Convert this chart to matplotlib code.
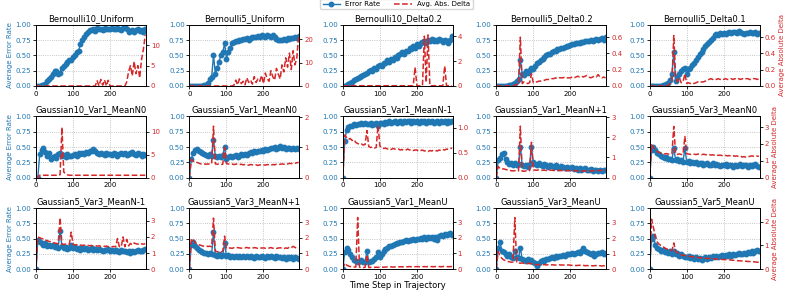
import numpy as np
import matplotlib.pyplot as plt

# time steps (sampled every 5 steps)
steps = np.arange(0, 300, 5)

titles = ["Bernoulli10_Uniform", "Bernoulli5_Uniform", "Bernoulli10_Delta0.2",
          "Bernoulli5_Delta0.2", "Bernoulli5_Delta0.1",
          "Gaussian10_Var1_MeanN0", "Gaussian5_Var1_MeanN0", "Gaussian5_Var1_MeanN-1",
          "Gaussian5_Var1_MeanN+1", "Gaussian5_Var3_MeanN0",
          "Gaussian5_Var3_MeanN-1", "Gaussian5_Var3_MeanN+1", "Gaussian5_Var1_MeanU",
          "Gaussian5_Var3_MeanU", "Gaussian5_Var5_MeanU"]

# ---- row 1 ----
err_b10_unif = [0, 0, 0, 0.01, 0.02, 0.04, 0.08, 0.12, 0.15, 0.20,
                0.25, 0.24, 0.20, 0.22, 0.30, 0.33, 0.36, 0.40, 0.43, 0.42,
                0.47, 0.50, 0.55, 0.58, 0.68, 0.75, 0.80, 0.85, 0.88, 0.92,
                0.92, 0.93, 0.90, 0.95, 0.93, 0.94, 0.92, 0.95, 0.93, 0.94,
                0.93, 0.95, 0.94, 0.93, 0.95, 0.94, 0.92, 0.95, 0.96, 0.93,
                0.88, 0.90, 0.92, 0.89, 0.91, 0.93, 0.90, 0.92, 0.89, 0.93]
dlt_b10_unif = [0, 0, 0, 0, 0, 0, 0, 0, 0, 0,
                0, 0, 0, 0, 0, 0, 0, 0, 0, 0,
                0, 0, 0, 0, 0, 0, 0, 0, 0, 0,
                0, 0, 0, 1.3, 0, 1.6, 0.2, 1.5, 0, 1.4,
                0, 0, 0, 0, 0, 0, 0, 0, 0, 1.0,
                3.5, 5.0, 2.5, 6.0, 3.0, 5.0, 2.0, 6.5, 9.0, 12.5]

err_b5_unif = [0, 0, 0, 0, 0, 0, 0, 0, 0.01, 0.02,
               0.05, 0.12, 0.15, 0.50, 0.20, 0.30, 0.40, 0.50, 0.55, 0.70,
               0.45, 0.55, 0.62, 0.70, 0.72, 0.73, 0.74, 0.76, 0.75, 0.77,
               0.77, 0.78, 0.76, 0.79, 0.80, 0.81, 0.80, 0.82, 0.81, 0.83,
               0.82, 0.81, 0.83, 0.82, 0.81, 0.83, 0.80, 0.77, 0.75, 0.76,
               0.76, 0.77, 0.75, 0.78, 0.77, 0.79, 0.78, 0.80, 0.79, 0.82]
dlt_b5_unif = [0, 0, 0, 0, 0, 0, 0, 0, 0, 0,
               0, 0, 0, 0, 0, 0, 0, 0, 0, 0,
               0, 0, 0, 0, 0.3, 2.5, 0.5, 3.0, 1.0, 2.0,
               0.5, 3.5, 1.5, 2.5, 0.8, 4.0, 1.5, 3.0, 2.0, 4.5,
               1.0, 5.5, 3.0, 2.0, 6.5, 4.0, 2.5, 7.5, 5.0, 3.0,
               9.0, 6.0, 12.0, 8.0, 14.0, 7.0, 15.0, 9.0, 12.0, 22.0]

err_b10_d02 = [0, 0, 0.01, 0.03, 0.05, 0.07, 0.10, 0.12, 0.13, 0.15,
               0.16, 0.18, 0.20, 0.22, 0.24, 0.26, 0.25, 0.30, 0.28, 0.33,
               0.35, 0.33, 0.38, 0.37, 0.42, 0.40, 0.45, 0.43, 0.47, 0.46,
               0.50, 0.52, 0.55, 0.53, 0.58, 0.57, 0.62, 0.60, 0.65, 0.63,
               0.68, 0.66, 0.70, 0.72, 0.74, 0.71, 0.75, 0.73, 0.77, 0.74,
               0.76, 0.73, 0.77, 0.75, 0.72, 0.76, 0.74, 0.70, 0.75, 0.82]
dlt_b10_d02 = [0, 0, 0.02, 0.02, 0.02, 0.02, 0.02, 0.02, 0.02, 0.02,
               0.02, 0.02, 0.02, 0.02, 0.02, 0.02, 0.02, 0.02, 0.02, 0.02,
               0.02, 0.02, 0.02, 0.02, 0.02, 0.02, 0.02, 0.02, 0.02, 0.02,
               0.02, 0.02, 0.02, 0.02, 0.02, 0.02, 0.02, 0.02, 0.02, 1.5,
               0.02, 0.02, 0.02, 0.02, 4.0, 0.3, 4.1, 0.02, 0.02, 0.02,
               0.02, 0.02, 0.02, 0.02, 0.02, 1.6, 0.02, 0.02, 0.02, 0.02]

err_b5_d02 = [0, 0, 0, 0, 0, 0, 0, 0.01, 0.02, 0.03,
              0.05, 0.08, 0.12, 0.42, 0.20, 0.18, 0.25, 0.22, 0.27, 0.30,
              0.28, 0.33, 0.38, 0.40, 0.42, 0.45, 0.47, 0.50, 0.52, 0.53,
              0.55, 0.57, 0.58, 0.60, 0.61, 0.62, 0.63, 0.64, 0.65, 0.66,
              0.67, 0.68, 0.69, 0.70, 0.70, 0.71, 0.72, 0.72, 0.73, 0.74,
              0.74, 0.75, 0.74, 0.76, 0.77, 0.75, 0.77, 0.78, 0.76, 0.80]
dlt_b5_d02 = [0, 0, 0, 0, 0, 0, 0, 0, 0, 0,
              0.01, 0.02, 0.02, 0.60, 0.03, 0.05, 0.04, 0.03, 0.04, 0.15,
              0.04, 0.05, 0.05, 0.06, 0.06, 0.07, 0.07, 0.08, 0.08, 0.08,
              0.09, 0.09, 0.10, 0.09, 0.10, 0.10, 0.10, 0.11, 0.10, 0.10,
              0.10, 0.11, 0.10, 0.11, 0.12, 0.11, 0.12, 0.11, 0.12, 0.13,
              0.11, 0.10, 0.11, 0.12, 0.11, 0.14, 0.11, 0.10, 0.11, 0.10]

err_b5_d01 = [0, 0, 0, 0, 0, 0, 0, 0.01, 0.02, 0.03,
              0.05, 0.10, 0.20, 0.55, 0.08, 0.15, 0.20, 0.25, 0.28, 0.30,
              0.20, 0.28, 0.30, 0.35, 0.38, 0.42, 0.47, 0.52, 0.55, 0.60,
              0.65, 0.68, 0.72, 0.75, 0.78, 0.83, 0.85, 0.84, 0.86, 0.85,
              0.86, 0.85, 0.87, 0.88, 0.86, 0.89, 0.88, 0.87, 0.90, 0.88,
              0.86, 0.85, 0.87, 0.86, 0.88, 0.87, 0.86, 0.88, 0.85, 0.87]
dlt_b5_d01 = [0, 0, 0, 0, 0, 0, 0, 0, 0, 0,
              0.01, 0.03, 0.05, 0.62, 0.12, 0.05, 0.10, 0.04, 0.05, 0.15,
              0.03, 0.04, 0.03, 0.04, 0.03, 0.04, 0.05, 0.04, 0.05, 0.05,
              0.06, 0.07, 0.08, 0.09, 0.08, 0.09, 0.08, 0.09, 0.08, 0.09,
              0.08, 0.09, 0.08, 0.08, 0.09, 0.08, 0.09, 0.08, 0.09, 0.08,
              0.09, 0.08, 0.09, 0.09, 0.08, 0.08, 0.09, 0.09, 0.08, 0.09]

# ---- row 2 ----
err_g10_v1_n0 = [0, 0, 0.38, 0.45, 0.48, 0.42, 0.35, 0.40, 0.30, 0.33,
                 0.36, 0.32, 0.38, 0.40, 0.35, 0.37, 0.34, 0.38, 0.36, 0.35,
                 0.37, 0.39, 0.36, 0.40, 0.38, 0.41, 0.39, 0.42, 0.40, 0.43,
                 0.44, 0.47, 0.43, 0.40, 0.38, 0.41, 0.39, 0.37, 0.40, 0.38,
                 0.39, 0.37, 0.40, 0.38, 0.36, 0.39, 0.41, 0.38, 0.40, 0.37,
                 0.38, 0.40, 0.42, 0.39, 0.37, 0.40, 0.38, 0.36, 0.39, 0.37]
dlt_g10_v1_n0 = [0, 0, 0.5, 0.5, 0.5, 0.5, 0.5, 0.5, 0.5, 0.5,
                 0.5, 0.5, 0.5, 0.6, 11.0, 1.2, 0.8, 0.6, 0.5, 0.5,
                 0.5, 0.5, 0.5, 0.5, 0.5, 0.5, 0.5, 0.5, 0.5, 0.5,
                 0.5, 0.5, 0.5, 0.5, 0.5, 0.5, 0.5, 0.5, 0.5, 0.5,
                 0.5, 0.5, 0.5, 0.5, 0.5, 0.5, 0.5, 0.5, 0.5, 0.5,
                 0.5, 0.5, 0.5, 0.5, 0.5, 0.5, 0.5, 0.5, 0.5, 0.5]

err_g5_v1_n0 = [0, 0.30, 0.40, 0.45, 0.47, 0.43, 0.42, 0.40, 0.38, 0.37,
                0.35, 0.38, 0.36, 0.62, 0.35, 0.33, 0.36, 0.34, 0.37, 0.50,
                0.30, 0.34, 0.36, 0.33, 0.35, 0.37, 0.34, 0.36, 0.38, 0.37,
                0.39, 0.37, 0.40, 0.42, 0.41, 0.43, 0.42, 0.44, 0.43, 0.45,
                0.44, 0.46, 0.45, 0.47, 0.49, 0.48, 0.50, 0.47, 0.49, 0.51,
                0.48, 0.50, 0.47, 0.49, 0.48, 0.46, 0.49, 0.47, 0.48, 0.47]
dlt_g5_v1_n0 = [0, 0.60, 0.55, 0.50, 0.50, 0.48, 0.45, 0.46, 0.45, 0.44,
                0.45, 0.44, 0.46, 1.70, 0.45, 0.44, 0.45, 0.43, 0.44, 1.00,
                0.46, 0.45, 0.44, 0.45, 0.43, 0.44, 0.45, 0.43, 0.44, 0.42,
                0.43, 0.42, 0.41, 0.43, 0.42, 0.41, 0.42, 0.40, 0.42, 0.41,
                0.42, 0.41, 0.43, 0.42, 0.41, 0.43, 0.42, 0.44, 0.43, 0.44,
                0.45, 0.44, 0.46, 0.45, 0.47, 0.46, 0.48, 0.47, 0.49, 0.50]

err_g5_v1_nm1 = [0, 0.60, 0.78, 0.82, 0.84, 0.85, 0.87, 0.86, 0.88, 0.87,
                 0.89, 0.88, 0.90, 0.88, 0.87, 0.89, 0.86, 0.88, 0.90, 0.85,
                 0.89, 0.90, 0.88, 0.91, 0.89, 0.92, 0.90, 0.91, 0.93, 0.90,
                 0.91, 0.93, 0.90, 0.92, 0.91, 0.93, 0.92, 0.90, 0.93, 0.91,
                 0.92, 0.90, 0.93, 0.91, 0.92, 0.90, 0.93, 0.91, 0.92, 0.90,
                 0.91, 0.93, 0.90, 0.92, 0.91, 0.93, 0.90, 0.92, 0.91, 0.92]
dlt_g5_v1_nm1 = [0, 0.85, 0.80, 0.76, 0.78, 0.74, 0.76, 0.70, 0.68, 0.66,
                 0.67, 0.65, 0.66, 0.94, 0.62, 0.60, 0.61, 0.59, 0.60, 1.04,
                 0.63, 0.60, 0.58, 0.59, 0.57, 0.58, 0.56, 0.58, 0.57, 0.56,
                 0.57, 0.55, 0.56, 0.54, 0.55, 0.57, 0.55, 0.56, 0.54, 0.55,
                 0.55, 0.53, 0.54, 0.55, 0.53, 0.54, 0.52, 0.54, 0.53, 0.55,
                 0.54, 0.53, 0.55, 0.54, 0.56, 0.55, 0.57, 0.56, 0.58, 0.59]

err_g5_v1_np1 = [0, 0.28, 0.32, 0.38, 0.40, 0.30, 0.25, 0.22, 0.24, 0.21,
                 0.23, 0.20, 0.22, 0.50, 0.20, 0.19, 0.21, 0.18, 0.22, 0.50,
                 0.25, 0.22, 0.20, 0.23, 0.21, 0.19, 0.22, 0.20, 0.18, 0.21,
                 0.19, 0.17, 0.20, 0.18, 0.16, 0.19, 0.17, 0.15, 0.18, 0.16,
                 0.15, 0.17, 0.14, 0.16, 0.13, 0.15, 0.12, 0.14, 0.16, 0.13,
                 0.12, 0.14, 0.11, 0.13, 0.12, 0.10, 0.13, 0.11, 0.12, 0.13]
dlt_g5_v1_np1 = [0, 0.55, 0.45, 0.42, 0.43, 0.40, 0.38, 0.35, 0.34, 0.33,
                 0.34, 0.32, 0.33, 2.55, 0.32, 0.31, 0.33, 0.32, 0.34, 1.75,
                 0.38, 0.37, 0.36, 0.38, 0.37, 0.36, 0.37, 0.35, 0.36, 0.37,
                 0.36, 0.35, 0.37, 0.34, 0.36, 0.35, 0.34, 0.36, 0.33, 0.35,
                 0.34, 0.33, 0.35, 0.32, 0.34, 0.33, 0.31, 0.33, 0.32, 0.34,
                 0.33, 0.32, 0.34, 0.33, 0.35, 0.34, 0.36, 0.35, 0.37, 0.36]

err_g5_v3_n0 = [0, 0.45, 0.50, 0.45, 0.40, 0.38, 0.35, 0.34, 0.32, 0.33,
                0.30, 0.31, 0.29, 0.48, 0.28, 0.30, 0.27, 0.29, 0.26, 0.48,
                0.25, 0.27, 0.24, 0.26, 0.23, 0.25, 0.22, 0.24, 0.23, 0.21,
                0.22, 0.24, 0.21, 0.20, 0.23, 0.21, 0.22, 0.20, 0.19, 0.21,
                0.20, 0.22, 0.19, 0.21, 0.20, 0.18, 0.21, 0.19, 0.20, 0.22,
                0.19, 0.21, 0.20, 0.18, 0.21, 0.19, 0.20, 0.22, 0.19, 0.17]
dlt_g5_v3_n0 = [0, 1.95, 1.80, 1.65, 1.55, 1.50, 1.45, 1.42, 1.40, 1.43,
                1.40, 1.38, 1.42, 3.05, 1.40, 1.38, 1.41, 1.37, 1.39, 2.45,
                1.42, 1.40, 1.38, 1.41, 1.39, 1.37, 1.40, 1.38, 1.36, 1.39,
                1.37, 1.35, 1.38, 1.34, 1.36, 1.33, 1.35, 1.32, 1.34, 1.31,
                1.30, 1.32, 1.29, 1.31, 1.28, 1.30, 1.27, 1.29, 1.26, 1.28,
                1.22, 1.25, 1.21, 1.24, 1.26, 1.29, 1.27, 1.30, 1.28, 1.26]

# ---- row 3 ----
err_g5_v3_nm1 = [0, 0.48, 0.45, 0.43, 0.40, 0.42, 0.38, 0.40, 0.37, 0.39,
                 0.36, 0.38, 0.35, 0.63, 0.37, 0.34, 0.36, 0.33, 0.35, 0.40,
                 0.34, 0.36, 0.33, 0.35, 0.32, 0.34, 0.33, 0.35, 0.31, 0.33,
                 0.34, 0.32, 0.33, 0.31, 0.33, 0.32, 0.30, 0.32, 0.31, 0.33,
                 0.30, 0.32, 0.29, 0.31, 0.30, 0.28, 0.31, 0.29, 0.30, 0.28,
                 0.29, 0.27, 0.30, 0.28, 0.29, 0.31, 0.29, 0.30, 0.32, 0.33]
dlt_g5_v3_nm1 = [0, 2.00, 1.95, 1.90, 1.88, 1.80, 1.78, 1.72, 1.70, 1.65,
                 1.62, 1.60, 1.58, 3.20, 1.55, 1.53, 1.56, 1.52, 1.54, 2.30,
                 1.55, 1.50, 1.52, 1.48, 1.50, 1.47, 1.49, 1.46, 1.48, 1.45,
                 1.47, 1.44, 1.46, 1.43, 1.45, 1.42, 1.44, 1.41, 1.43, 1.40,
                 1.42, 1.39, 1.41, 1.38, 1.90, 1.40, 1.38, 2.00, 1.39, 1.85,
                 1.45, 1.60, 1.50, 1.62, 1.58, 1.55, 1.60, 1.57, 1.55, 1.58]

err_g5_v3_np1 = [0, 0.40, 0.44, 0.38, 0.35, 0.32, 0.30, 0.28, 0.27, 0.26,
                 0.25, 0.27, 0.24, 0.60, 0.23, 0.22, 0.24, 0.21, 0.23, 0.43,
                 0.21, 0.23, 0.20, 0.22, 0.19, 0.21, 0.20, 0.22, 0.19, 0.21,
                 0.20, 0.22, 0.19, 0.21, 0.20, 0.18, 0.21, 0.19, 0.20, 0.22,
                 0.20, 0.18, 0.21, 0.19, 0.22, 0.20, 0.18, 0.21, 0.19, 0.20,
                 0.18, 0.20, 0.17, 0.19, 0.18, 0.20, 0.17, 0.19, 0.18, 0.17]
dlt_g5_v3_np1 = [0, 1.95, 1.85, 1.70, 1.60, 1.55, 1.52, 1.48, 1.45, 1.47,
                 1.44, 1.46, 1.42, 3.25, 1.15, 1.10, 1.12, 1.08, 1.15, 2.10,
                 1.30, 1.33, 1.35, 1.32, 1.36, 1.34, 1.37, 1.35, 1.33, 1.36,
                 1.35, 1.38, 1.34, 1.36, 1.33, 1.37, 1.35, 1.32, 1.36, 1.34,
                 1.35, 1.33, 1.36, 1.34, 1.37, 1.33, 1.35, 1.32, 1.34, 1.36,
                 1.33, 1.30, 1.35, 1.32, 1.40, 1.36, 1.45, 1.38, 1.33, 1.30]

err_g5_v1_u = [0, 0.28, 0.35, 0.32, 0.25, 0.20, 0.15, 0.14, 0.12, 0.13,
               0.15, 0.12, 0.11, 0.30, 0.12, 0.14, 0.13, 0.16, 0.20, 0.28,
               0.20, 0.25, 0.30, 0.33, 0.35, 0.37, 0.38, 0.40, 0.41, 0.42,
               0.43, 0.44, 0.45, 0.46, 0.47, 0.46, 0.48, 0.47, 0.49, 0.48,
               0.50, 0.49, 0.51, 0.50, 0.52, 0.50, 0.53, 0.51, 0.52, 0.50,
               0.53, 0.47, 0.54, 0.56, 0.55, 0.57, 0.56, 0.58, 0.59, 0.56]
dlt_g5_v1_u = [0, 0.38, 0.26, 0.20, 0.16, 0.15, 0.14, 0.13, 3.30, 0.12,
               0.11, 0.10, 0.11, 0.90, 0.10, 0.11, 0.10, 0.11, 0.12, 0.11,
               0.12, 0.13, 0.12, 0.13, 0.14, 0.13, 0.14, 0.13, 0.14, 0.15,
               0.14, 0.15, 0.14, 0.15, 0.14, 0.15, 0.16, 0.15, 0.14, 0.15,
               0.16, 0.15, 0.14, 0.15, 0.16, 0.15, 0.16, 0.15, 0.16, 0.15,
               0.16, 0.15, 0.16, 0.15, 0.16, 0.17, 0.16, 0.15, 0.16, 0.16]

err_g5_v3_u = [0, 0.35, 0.45, 0.30, 0.28, 0.25, 0.22, 0.24, 0.20, 0.18,
               0.30, 0.20, 0.18, 0.35, 0.16, 0.15, 0.14, 0.16, 0.13, 0.15,
               0.12, 0.10, 0.05, 0.10, 0.13, 0.15, 0.14, 0.17, 0.16, 0.18,
               0.19, 0.18, 0.21, 0.20, 0.22, 0.21, 0.23, 0.22, 0.24, 0.25,
               0.24, 0.26, 0.25, 0.27, 0.28, 0.26, 0.29, 0.35, 0.30, 0.28,
               0.27, 0.25, 0.26, 0.22, 0.24, 0.27, 0.26, 0.28, 0.25, 0.27]
dlt_g5_v3_u = [0, 1.15, 0.85, 0.70, 0.60, 0.55, 0.50, 0.48, 0.45, 0.46,
               3.35, 0.42, 0.40, 0.38, 0.40, 0.37, 0.38, 0.36, 0.37, 0.35,
               0.33, 0.30, 0.29, 0.28, 0.30, 0.28, 0.29, 0.27, 0.28, 0.27,
               0.28, 0.27, 0.26, 0.27, 0.28, 0.26, 0.27, 0.25, 0.26, 0.27,
               0.25, 0.24, 0.25, 0.23, 0.24, 0.25, 0.23, 0.24, 0.22, 0.23,
               0.22, 0.23, 0.21, 0.22, 0.23, 0.21, 0.22, 0.20, 0.22, 0.21]

err_g5_v5_u = [0, 0.50, 0.55, 0.40, 0.35, 0.33, 0.30, 0.32, 0.28, 0.29,
               0.27, 0.30, 0.25, 0.30, 0.24, 0.26, 0.22, 0.24, 0.21, 0.20,
               0.19, 0.22, 0.18, 0.20, 0.17, 0.19, 0.16, 0.18, 0.15, 0.17,
               0.19, 0.17, 0.20, 0.18, 0.21, 0.19, 0.22, 0.20, 0.21, 0.23,
               0.21, 0.23, 0.22, 0.24, 0.22, 0.25, 0.23, 0.24, 0.26, 0.24,
               0.25, 0.27, 0.24, 0.28, 0.26, 0.30, 0.27, 0.29, 0.31, 0.30]
dlt_g5_v5_u = [0, 2.10, 1.75, 1.40, 1.15, 1.05, 1.00, 0.95, 0.90, 0.85,
               0.82, 0.80, 0.78, 1.10, 0.75, 0.70, 0.62, 0.60, 0.58, 0.57,
               0.55, 0.54, 0.53, 0.52, 0.51, 0.50, 0.49, 0.48, 0.47, 0.46,
               0.46, 0.45, 0.45, 0.44, 0.43, 0.43, 0.42, 0.42, 0.41, 0.41,
               0.40, 0.40, 0.39, 0.39, 0.38, 0.37, 0.37, 0.36, 0.35, 0.35,
               0.34, 0.33, 0.33, 0.32, 0.32, 0.31, 0.31, 0.30, 0.29, 0.29]

error_series = [err_b10_unif, err_b5_unif, err_b10_d02, err_b5_d02, err_b5_d01,
                err_g10_v1_n0, err_g5_v1_n0, err_g5_v1_nm1, err_g5_v1_np1, err_g5_v3_n0,
                err_g5_v3_nm1, err_g5_v3_np1, err_g5_v1_u, err_g5_v3_u, err_g5_v5_u]
delta_series = [dlt_b10_unif, dlt_b5_unif, dlt_b10_d02, dlt_b5_d02, dlt_b5_d01,
                dlt_g10_v1_n0, dlt_g5_v1_n0, dlt_g5_v1_nm1, dlt_g5_v1_np1, dlt_g5_v3_n0,
                dlt_g5_v3_nm1, dlt_g5_v3_np1, dlt_g5_v1_u, dlt_g5_v3_u, dlt_g5_v5_u]

# right axis ranges / ticks
delta_top = [15, 26, 4.9, 0.75, 0.75, 13.4, 2.02, 1.22, 3.03, 3.64, 3.8, 3.89, 3.9, 3.97, 2.57]
delta_ticks = [[0, 5, 10], [0, 10, 20], [0, 2, 4], [0, 0.2, 0.4, 0.6], [0, 0.2, 0.4, 0.6],
               [0, 5, 10], [0, 1, 2], [0, 0.5, 1.0], [0, 1, 2, 3], [0, 1, 2, 3],
               [0, 1, 2, 3], [0, 1, 2, 3], [0, 1, 2, 3], [0, 1, 2, 3], [0, 1, 2]]

blue = '#1f77b4'
red = '#d62728'

fig, axes = plt.subplots(3, 5, figsize=(7.93, 2.97), dpi=100)
fig.subplots_adjust(left=0.0454, right=0.958, top=0.916, bottom=0.094, wspace=0.395, hspace=0.5)

for i, ax in enumerate(axes.flat):
    l1, = ax.plot(steps, error_series[i], color=blue, marker='o', markersize=3.2,
                  linewidth=1.0, label='Error Rate')
    ax.set_ylim(0, 1)
    ax.set_xlim(0, 297)
    ax.set_xticks([0, 100, 200])
    ax.set_yticks([0, 0.25, 0.5, 0.75, 1.0])
    ax.grid(True, linestyle=':', linewidth=0.6, color='gray', alpha=0.6)
    ax.tick_params(axis='y', labelcolor=blue, labelsize=5, length=2, width=0.6, pad=1.5)
    ax.tick_params(axis='x', labelsize=5, length=2, width=0.6, pad=1.5)
    ax.set_title(titles[i], fontsize=6, pad=3)
    for sp in ax.spines.values():
        sp.set_linewidth(0.6)

    ax2 = ax.twinx()
    l2, = ax2.plot(steps, delta_series[i], color=red, linestyle='--', linewidth=1.1,
                   label='Avg. Abs. Delta')
    ax2.set_ylim(0, delta_top[i])
    ax2.set_yticks(delta_ticks[i])
    ax2.tick_params(axis='y', labelcolor=red, labelsize=5, length=2, width=0.6, pad=1.5)
    for sp in ax2.spines.values():
        sp.set_linewidth(0.6)

    if i % 5 == 0:
        ax.set_ylabel('Average Error Rate', color=blue, fontsize=5, labelpad=2)
    if i % 5 == 4:
        ax2.set_ylabel('Average Absolute Delta', color=red, fontsize=5, labelpad=2)
    if i == 12:
        ax.set_xlabel('Time Step in Trajectory', fontsize=6, labelpad=1)

fig.legend([l1, l2], ['Error Rate', 'Avg. Abs. Delta'], loc='upper center',
           bbox_to_anchor=(0.5, 1.015), ncol=2, fontsize=5, frameon=True,
           handlelength=2.5, borderpad=0.3, columnspacing=2.0)

fig.savefig('out.png', dpi=100)
